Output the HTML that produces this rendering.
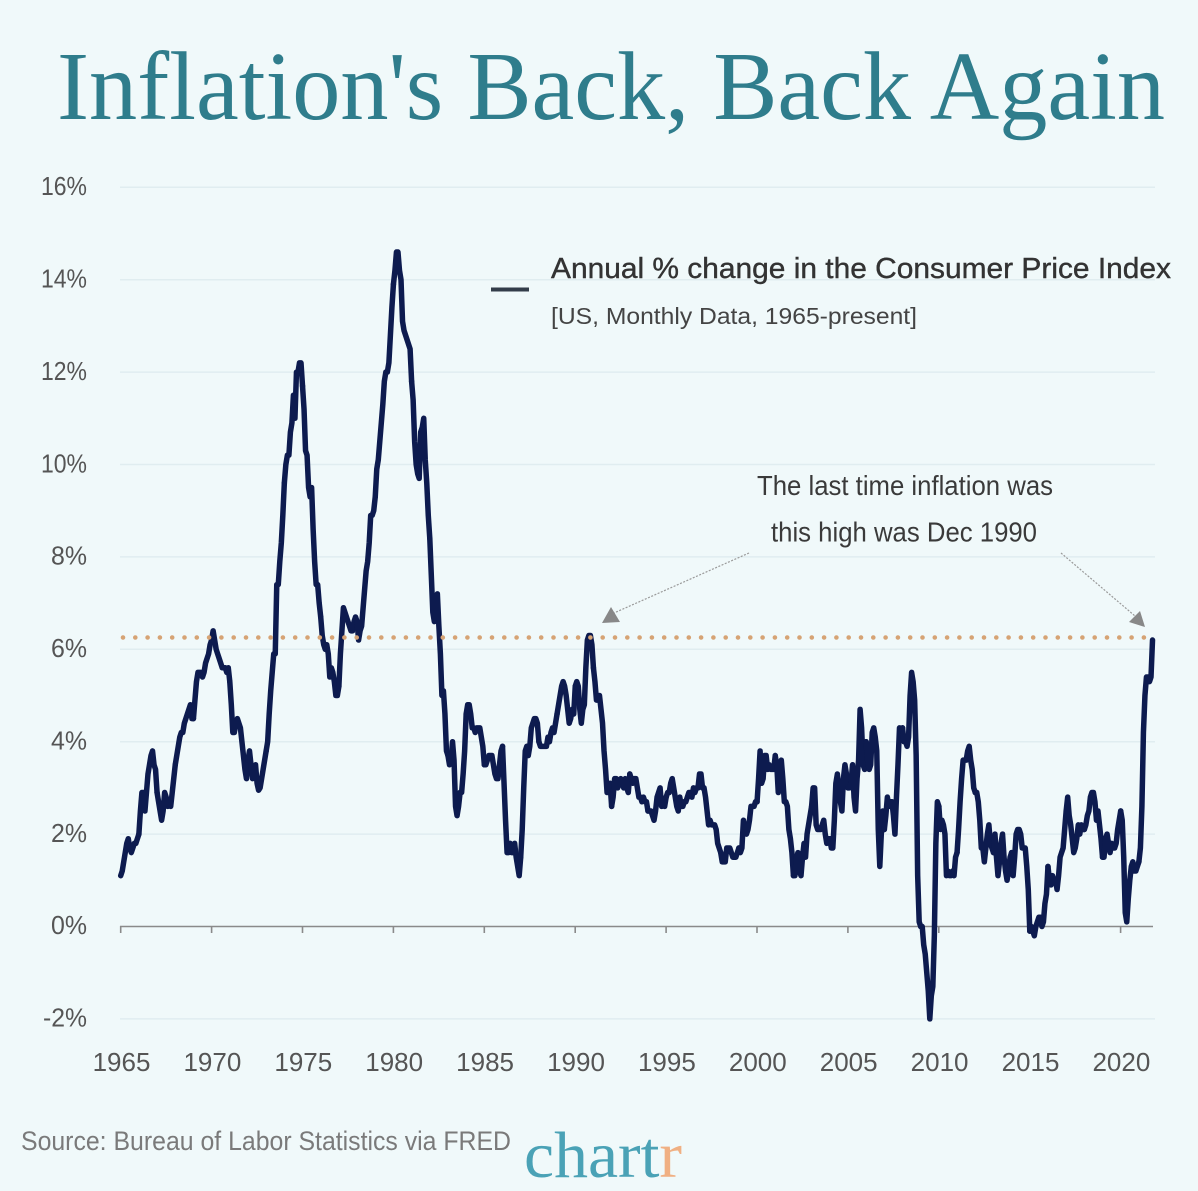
<!DOCTYPE html>
<html>
<head>
<meta charset="utf-8">
<style>
html,body{margin:0;padding:0;background:#f0f9fa;}
svg{display:block;}
</style>
</head>
<body>
<svg width="1198" height="1191" viewBox="0 0 1198 1191" xmlns="http://www.w3.org/2000/svg">
<rect x="0" y="0" width="1198" height="1191" fill="#f0f9fa"/>

<!-- Title -->
<text x="57" y="119" font-family="Liberation Serif, serif" font-size="98" fill="#2f7d8c" textLength="1108" lengthAdjust="spacingAndGlyphs">Inflation's Back, Back Again</text>

<!-- gridlines -->
<g stroke="#e0edf0" stroke-width="1.5">
<line x1="120" y1="187.3" x2="1155" y2="187.3"/>
<line x1="120" y1="279.7" x2="1155" y2="279.7"/>
<line x1="120" y1="372.1" x2="1155" y2="372.1"/>
<line x1="120" y1="464.5" x2="1155" y2="464.5"/>
<line x1="120" y1="556.9" x2="1155" y2="556.9"/>
<line x1="120" y1="649.3" x2="1155" y2="649.3"/>
<line x1="120" y1="741.7" x2="1155" y2="741.7"/>
<line x1="120" y1="834.1" x2="1155" y2="834.1"/>
<line x1="120" y1="1018.9" x2="1155" y2="1018.9"/>
</g>

<!-- y labels -->
<g font-family="Liberation Sans, sans-serif" font-size="26" fill="#555" text-anchor="end">
<text x="87" y="195" textLength="46" lengthAdjust="spacingAndGlyphs">16%</text>
<text x="87" y="287.5" textLength="46" lengthAdjust="spacingAndGlyphs">14%</text>
<text x="87" y="380" textLength="46" lengthAdjust="spacingAndGlyphs">12%</text>
<text x="87" y="472.5" textLength="46" lengthAdjust="spacingAndGlyphs">10%</text>
<text x="87" y="564.5" textLength="36" lengthAdjust="spacingAndGlyphs">8%</text>
<text x="87" y="657" textLength="36" lengthAdjust="spacingAndGlyphs">6%</text>
<text x="87" y="749.5" textLength="36" lengthAdjust="spacingAndGlyphs">4%</text>
<text x="87" y="842" textLength="36" lengthAdjust="spacingAndGlyphs">2%</text>
<text x="87" y="934" textLength="36" lengthAdjust="spacingAndGlyphs">0%</text>
<text x="87" y="1026.5" textLength="44" lengthAdjust="spacingAndGlyphs">-2%</text>
</g>

<!-- x axis -->
<g stroke="#8a8a8a" stroke-width="1.6" fill="none">
<line x1="120" y1="926.5" x2="1153" y2="926.5"/>
<line x1="120.7" y1="926" x2="120.7" y2="933"/>
<line x1="211.6" y1="926" x2="211.6" y2="933"/>
<line x1="302.5" y1="926" x2="302.5" y2="933"/>
<line x1="393.4" y1="926" x2="393.4" y2="933"/>
<line x1="484.3" y1="926" x2="484.3" y2="933"/>
<line x1="575.2" y1="926" x2="575.2" y2="933"/>
<line x1="666.1" y1="926" x2="666.1" y2="933"/>
<line x1="757.0" y1="926" x2="757.0" y2="933"/>
<line x1="847.9" y1="926" x2="847.9" y2="933"/>
<line x1="938.8" y1="926" x2="938.8" y2="933"/>
<line x1="1029.7" y1="926" x2="1029.7" y2="933"/>
<line x1="1120.6" y1="926" x2="1120.6" y2="933"/>
</g>
<g font-family="Liberation Sans, sans-serif" font-size="26" fill="#555" text-anchor="middle">
<text x="121.5" y="1071">1965</text>
<text x="212.4" y="1071">1970</text>
<text x="303.3" y="1071">1975</text>
<text x="394.2" y="1071">1980</text>
<text x="485.1" y="1071">1985</text>
<text x="576" y="1071">1990</text>
<text x="666.9" y="1071">1995</text>
<text x="757.8" y="1071">2000</text>
<text x="848.7" y="1071">2005</text>
<text x="939.6" y="1071">2010</text>
<text x="1030.5" y="1071">2015</text>
<text x="1121.4" y="1071">2020</text>
</g>

<!-- series -->
<g transform="translate(120.7,926.5) scale(1.51515,-46.2)" fill="none" stroke="#0d1b4f" stroke-width="5.5" stroke-linejoin="round" stroke-linecap="round">
<polyline vector-effect="non-scaling-stroke" transform="translate(0,0)" points="0,1.1 1,1.2 2,1.4 3,1.6 4,1.8 5,1.9 6,1.7 7,1.6 8,1.7 9,1.8 10,1.8 11,1.9 12,2.0"/>
<polyline vector-effect="non-scaling-stroke" transform="translate(12,0)" points="0,2.0 1,2.5 2,2.9 3,2.9 4,2.5 5,2.9 6,3.3 7,3.5 8,3.7 9,3.8 10,3.5 11,3.4 12,2.9"/>
<polyline vector-effect="non-scaling-stroke" transform="translate(24,0)" points="0,2.9 1,2.7 2,2.5 3,2.3 4,2.5 5,2.9 6,2.8 7,2.6 8,2.7 9,2.6 10,2.9 11,3.2 12,3.5"/>
<polyline vector-effect="non-scaling-stroke" transform="translate(36,0)" points="0,3.5 1,3.7 2,3.9 3,4.1 4,4.2 5,4.2 6,4.4 7,4.5 8,4.6 9,4.7 10,4.8 11,4.5 12,4.5"/>
<polyline vector-effect="non-scaling-stroke" transform="translate(48,0)" points="0,4.5 1,4.9 2,5.3 3,5.5 4,5.5 5,5.5 6,5.4 7,5.5 8,5.7 9,5.8 10,5.9 11,6.1 12,6.2"/>
<polyline vector-effect="non-scaling-stroke" transform="translate(60,0)" points="0,6.2 1,6.4 2,6.2 3,6.0 4,5.9 5,5.8 6,5.7 7,5.6 8,5.6 9,5.6 10,5.5 11,5.6 12,5.3"/>
<polyline vector-effect="non-scaling-stroke" transform="translate(72,0)" points="0,5.3 1,4.8 2,4.2 3,4.2 4,4.4 5,4.5 6,4.4 7,4.3 8,4.0 9,3.7 10,3.4 11,3.2 12,3.6"/>
<polyline vector-effect="non-scaling-stroke" transform="translate(84,0)" points="0,3.6 1,3.8 2,3.5 3,3.2 4,3.4 5,3.5 6,3.1 7,2.95 8,3.0 9,3.2 10,3.4 11,3.6 12,3.8"/>
<polyline vector-effect="non-scaling-stroke" transform="translate(96,0)" points="0,3.8 1,4.0 2,4.6 3,5.1 4,5.5 5,5.9 6,5.9 7,7.4 8,7.4 9,7.9 10,8.3 11,8.9 12,9.6"/>
<polyline vector-effect="non-scaling-stroke" transform="translate(108,0)" points="0,9.6 1,10.0 2,10.2 3,10.2 4,10.7 5,10.9 6,11.5 7,11.0 8,12.0 9,12.0 10,12.2 11,12.2 12,11.7"/>
<polyline vector-effect="non-scaling-stroke" transform="translate(120,0)" points="0,11.7 1,11.2 2,10.3 3,10.2 4,9.5 5,9.3 6,9.5 7,8.6 8,7.9 9,7.4 10,7.4 11,7.0 12,6.7"/>
<polyline vector-effect="non-scaling-stroke" transform="translate(132,0)" points="0,6.7 1,6.3 2,6.1 3,6.0 4,6.1 5,5.9 6,5.4 7,5.6 8,5.5 9,5.3 10,5.0 11,5.0 12,5.2"/>
<polyline vector-effect="non-scaling-stroke" transform="translate(144,0)" points="0,5.2 1,5.9 2,6.4 3,6.9 4,6.8 5,6.7 6,6.6 7,6.5 8,6.4 9,6.4 10,6.6 11,6.7 12,6.6"/>
<polyline vector-effect="non-scaling-stroke" transform="translate(156,0)" points="0,6.6 1,6.2 2,6.4 3,6.5 4,6.9 5,7.3 6,7.7 7,7.9 8,8.3 9,8.9 10,8.9 11,9.0 12,9.3"/>
<polyline vector-effect="non-scaling-stroke" transform="translate(168,0)" points="0,9.3 1,9.9 2,10.1 3,10.5 4,10.9 5,11.3 6,11.8 7,12.0 8,12.0 9,12.2 10,12.8 11,13.4 12,13.9"/>
<polyline vector-effect="non-scaling-stroke" transform="translate(180,0)" points="0,13.9 1,14.2 2,14.6 3,14.6 4,14.2 5,14.0 6,13.1 7,12.9 8,12.8 9,12.7 10,12.6 11,12.5 12,11.8"/>
<polyline vector-effect="non-scaling-stroke" transform="translate(192,0)" points="0,11.8 1,11.4 2,10.5 3,10.0 4,9.8 5,9.7 6,10.7 7,10.8 8,11.0 9,10.1 10,9.6 11,8.9 12,8.4"/>
<polyline vector-effect="non-scaling-stroke" transform="translate(204,0)" points="0,8.4 1,7.6 2,6.8 3,6.6 4,7.1 5,7.2 6,6.5 7,5.9 8,5.0 9,5.1 10,4.6 11,3.8 12,3.7"/>
<polyline vector-effect="non-scaling-stroke" transform="translate(216,0)" points="0,3.7 1,3.5 2,3.6 3,4.0 4,3.6 5,2.6 6,2.4 7,2.6 8,2.9 9,2.9 10,3.3 11,3.8 12,4.6"/>
<polyline vector-effect="non-scaling-stroke" transform="translate(228,0)" points="0,4.6 1,4.8 2,4.8 3,4.6 4,4.3 5,4.3 6,4.2 7,4.3 8,4.3 9,4.3 10,4.1 11,3.9 12,3.5"/>
<polyline vector-effect="non-scaling-stroke" transform="translate(240,0)" points="0,3.5 1,3.5 2,3.6 3,3.7 4,3.7 5,3.7 6,3.5 7,3.3 8,3.2 9,3.2 10,3.5 11,3.8 12,3.9"/>
<polyline vector-effect="non-scaling-stroke" transform="translate(252,0)" points="0,3.9 1,3.1 2,2.3 3,1.6 4,1.6 5,1.8 6,1.6 7,1.6 8,1.8 9,1.5 10,1.3 11,1.1 12,1.5"/>
<polyline vector-effect="non-scaling-stroke" transform="translate(264,0)" points="0,1.5 1,2.1 2,3.0 3,3.8 4,3.9 5,3.7 6,3.9 7,4.3 8,4.4 9,4.5 10,4.5 11,4.4 12,4.0"/>
<polyline vector-effect="non-scaling-stroke" transform="translate(276,0)" points="0,4.0 1,3.9 2,3.9 3,3.9 4,3.9 5,3.9 6,4.1 7,4.0 8,4.2 9,4.3 10,4.2 11,4.4 12,4.6"/>
<polyline vector-effect="non-scaling-stroke" transform="translate(288,0)" points="0,4.6 1,4.8 2,5.0 3,5.2 4,5.3 5,5.2 6,5.0 7,4.7 8,4.4 9,4.5 10,4.7 11,4.6 12,5.2"/>
<polyline vector-effect="non-scaling-stroke" transform="translate(300,0)" points="0,5.2 1,5.3 2,5.2 3,4.7 4,4.4 5,4.7 6,4.8 7,5.6 8,6.2 9,6.3 10,6.3 11,6.1 12,5.6"/>
<polyline vector-effect="non-scaling-stroke" transform="translate(312,0)" points="0,5.6 1,5.3 2,4.9 3,4.9 4,5.0 5,4.7 6,4.4 7,3.8 8,3.4 9,2.9 10,3.0 11,3.1 12,2.6"/>
<polyline vector-effect="non-scaling-stroke" transform="translate(324,0)" points="0,2.6 1,2.8 2,3.2 3,3.2 4,3.0 5,3.1 6,3.2 7,3.1 8,3.0 9,3.2 10,3.0 11,2.9 12,3.3"/>
<polyline vector-effect="non-scaling-stroke" transform="translate(336,0)" points="0,3.3 1,3.2 2,3.1 3,3.2 4,3.2 5,3.0 6,2.8 7,2.8 8,2.7 9,2.8 10,2.7 11,2.7 12,2.5"/>
<polyline vector-effect="non-scaling-stroke" transform="translate(348,0)" points="0,2.5 1,2.5 2,2.5 3,2.4 4,2.3 5,2.5 6,2.8 7,2.9 8,3.0 9,2.6 10,2.7 11,2.6 12,2.8"/>
<polyline vector-effect="non-scaling-stroke" transform="translate(360,0)" points="0,2.8 1,2.9 2,2.9 3,3.1 4,3.2 5,3.0 6,2.8 7,2.6 8,2.5 9,2.8 10,2.6 11,2.6 12,2.7"/>
<polyline vector-effect="non-scaling-stroke" transform="translate(372,0)" points="0,2.7 1,2.7 2,2.8 3,2.9 4,2.9 5,2.8 6,3.0 7,2.9 8,3.0 9,3.0 10,3.3 11,3.3 12,3.0"/>
<polyline vector-effect="non-scaling-stroke" transform="translate(384,0)" points="0,3.0 1,3.0 2,2.8 3,2.5 4,2.2 5,2.3 6,2.2 7,2.2 8,2.2 9,2.1 10,1.8 11,1.7 12,1.6"/>
<polyline vector-effect="non-scaling-stroke" transform="translate(396,0)" points="0,1.6 1,1.4 2,1.4 3,1.4 4,1.7 5,1.7 6,1.7 7,1.6 8,1.5 9,1.5 10,1.5 11,1.6 12,1.7"/>
<polyline vector-effect="non-scaling-stroke" transform="translate(408,0)" points="0,1.7 1,1.6 2,1.7 3,2.3 4,2.1 5,2.0 6,2.1 7,2.3 8,2.6 9,2.6 10,2.6 11,2.7 12,2.7"/>
<polyline vector-effect="non-scaling-stroke" transform="translate(420,0)" points="0,2.7 1,3.2 2,3.8 3,3.1 4,3.2 5,3.7 6,3.7 7,3.4 8,3.5 9,3.4 10,3.4 11,3.4 12,3.7"/>
<polyline vector-effect="non-scaling-stroke" transform="translate(432,0)" points="0,3.7 1,3.5 2,2.9 3,3.3 4,3.6 5,3.2 6,2.7 7,2.7 8,2.6 9,2.1 10,1.9 11,1.6 12,1.1"/>
<polyline vector-effect="non-scaling-stroke" transform="translate(444,0)" points="0,1.1 1,1.1 2,1.5 3,1.6 4,1.2 5,1.1 6,1.5 7,1.8 8,1.5 9,2.0 10,2.2 11,2.4 12,2.6"/>
<polyline vector-effect="non-scaling-stroke" transform="translate(456,0)" points="0,2.6 1,3.0 2,3.0 3,2.2 4,2.1 5,2.1 6,2.1 7,2.2 8,2.3 9,2.0 10,1.8 11,1.9 12,1.9"/>
<polyline vector-effect="non-scaling-stroke" transform="translate(468,0)" points="0,1.9 1,1.7 2,1.7 3,2.3 4,3.1 5,3.3 6,3.0 7,2.7 8,2.5 9,3.2 10,3.5 11,3.3 12,3.0"/>
<polyline vector-effect="non-scaling-stroke" transform="translate(480,0)" points="0,3.0 1,3.0 2,3.1 3,3.5 4,2.8 5,2.5 6,3.2 7,3.6 8,4.7 9,4.3 10,3.5 11,3.4 12,4.0"/>
<polyline vector-effect="non-scaling-stroke" transform="translate(492,0)" points="0,4.0 1,3.6 2,3.4 3,3.5 4,4.2 5,4.3 6,4.1 7,3.8 8,2.1 9,1.3 10,2.0 11,2.5 12,2.1"/>
<polyline vector-effect="non-scaling-stroke" transform="translate(504,0)" points="0,2.1 1,2.4 2,2.8 3,2.6 4,2.7 5,2.7 6,2.4 7,2.0 8,2.8 9,3.5 10,4.3 11,4.1 12,4.3"/>
<polyline vector-effect="non-scaling-stroke" transform="translate(516,0)" points="0,4.3 1,4.0 2,4.0 3,3.9 4,4.1 5,5.0 6,5.5 7,5.3 8,4.9 9,3.7 10,1.1 11,0.1 12,0.0"/>
<polyline vector-effect="non-scaling-stroke" transform="translate(528,0)" points="0,0.0 1,0.0 2,-0.4 3,-0.6 4,-1.0 5,-1.4 6,-2.0 7,-1.5 8,-1.3 9,-0.2 10,1.8 11,2.7 12,2.6"/>
<polyline vector-effect="non-scaling-stroke" transform="translate(540,0)" points="0,2.6 1,2.1 2,2.3 3,2.2 4,2.0 5,1.1 6,1.2 7,1.1 8,1.1 9,1.2 10,1.1 11,1.5 12,1.6"/>
<polyline vector-effect="non-scaling-stroke" transform="translate(552,0)" points="0,1.6 1,2.1 2,2.7 3,3.2 4,3.6 5,3.6 6,3.6 7,3.8 8,3.9 9,3.6 10,3.4 11,3.0 12,2.9"/>
<polyline vector-effect="non-scaling-stroke" transform="translate(564,0)" points="0,2.9 1,2.9 2,2.7 3,2.3 4,1.7 5,1.7 6,1.4 7,1.7 8,2.0 9,2.2 10,1.8 11,1.7 12,1.6"/>
<polyline vector-effect="non-scaling-stroke" transform="translate(576,0)" points="0,1.6 1,2.0 2,1.5 3,1.1 4,1.4 5,1.8 6,2.0 7,1.5 8,1.2 9,1.0 10,1.2 11,1.5 12,1.6"/>
<polyline vector-effect="non-scaling-stroke" transform="translate(588,0)" points="0,1.6 1,1.1 2,1.5 3,2.0 4,2.1 5,2.1 6,2.0 7,1.7 8,1.7 9,1.7 10,1.3 11,0.8 12,-0.1"/>
<polyline vector-effect="non-scaling-stroke" transform="translate(600,0)" points="0,-0.1 1,0.0 2,-0.1 3,-0.2 4,0.0 5,0.1 6,0.2 7,0.2 8,0.0 9,0.1 10,0.5 11,0.7 12,1.3"/>
<polyline vector-effect="non-scaling-stroke" transform="translate(612,0)" points="0,1.3 1,1.0 2,0.9 3,1.1 4,1.0 5,1.0 6,0.8 7,1.1 8,1.5 9,1.6 10,1.7 11,2.1 12,2.5"/>
<polyline vector-effect="non-scaling-stroke" transform="translate(624,0)" points="0,2.5 1,2.8 2,2.4 3,2.2 4,1.9 5,1.6 6,1.7 7,1.9 8,2.2 9,2.0 10,2.2 11,2.1 12,2.1"/>
<polyline vector-effect="non-scaling-stroke" transform="translate(636,0)" points="0,2.1 1,2.2 2,2.4 3,2.5 4,2.8 5,2.9 6,2.9 7,2.7 8,2.3 9,2.5 10,2.2 11,1.9 12,1.5"/>
<polyline vector-effect="non-scaling-stroke" transform="translate(648,0)" points="0,1.5 1,1.5 2,1.9 3,2.0 4,1.8 5,1.6 6,1.8 7,1.7 8,1.7 9,1.8 10,2.1 11,2.3 12,2.5"/>
<polyline vector-effect="non-scaling-stroke" transform="translate(660,0)" points="0,2.5 1,2.3 2,1.5 3,0.3 4,0.1 5,0.6 6,1.0 7,1.3 8,1.4 9,1.2 10,1.2 11,1.3 12,1.4"/>
<polyline vector-effect="non-scaling-stroke" transform="translate(672,0)" points="0,1.4 1,1.7 2,2.6 3,4.2 4,5.0 5,5.4 6,5.4 7,5.3 8,5.4 9,6.2"/>
</g>

<!-- dotted reference line -->
<line x1="123" y1="637.5" x2="1152" y2="637.5" stroke="#d6a374" stroke-width="4.6" stroke-linecap="round" stroke-dasharray="0 12.3"/>

<!-- legend -->
<rect x="491" y="287.5" width="38" height="4" fill="#333d4a"/>
<text x="551" y="278" font-family="Liberation Sans, sans-serif" font-size="29" fill="#333" stroke="#333" stroke-width="0.4" textLength="620" lengthAdjust="spacingAndGlyphs">Annual % change in the Consumer Price Index</text>
<text x="551" y="324" font-family="Liberation Sans, sans-serif" font-size="23" fill="#444" textLength="366" lengthAdjust="spacingAndGlyphs">[US, Monthly Data, 1965-present]</text>

<!-- annotation -->
<g font-family="Liberation Sans, sans-serif" font-size="28" fill="#3a3a3a">
<text x="757" y="495" textLength="296" lengthAdjust="spacingAndGlyphs">The last time inflation was</text>
<text x="771" y="541.5" textLength="266" lengthAdjust="spacingAndGlyphs">this high was Dec 1990</text>
</g>
<g stroke="#9a9a9a" stroke-width="1.2" stroke-dasharray="2 1.5" fill="none">
<line x1="749" y1="553" x2="614" y2="613"/>
<line x1="1061" y1="553" x2="1135" y2="616"/>
</g>
<polygon points="611,607 602,623 620,622" fill="#888"/>
<polygon points="1129,622 1140,611 1145,627" fill="#888"/>

<!-- footer -->
<text x="21" y="1150" font-family="Liberation Sans, sans-serif" font-size="27" fill="#7a7a7a" textLength="490" lengthAdjust="spacingAndGlyphs">Source: Bureau of Labor Statistics via FRED</text>
<text x="524" y="1177" font-family="Liberation Serif, serif" font-size="66" textLength="158" lengthAdjust="spacingAndGlyphs"><tspan fill="#4aa2b6">chart</tspan><tspan fill="#f0b083">r</tspan></text>
</svg>
</body>
</html>
